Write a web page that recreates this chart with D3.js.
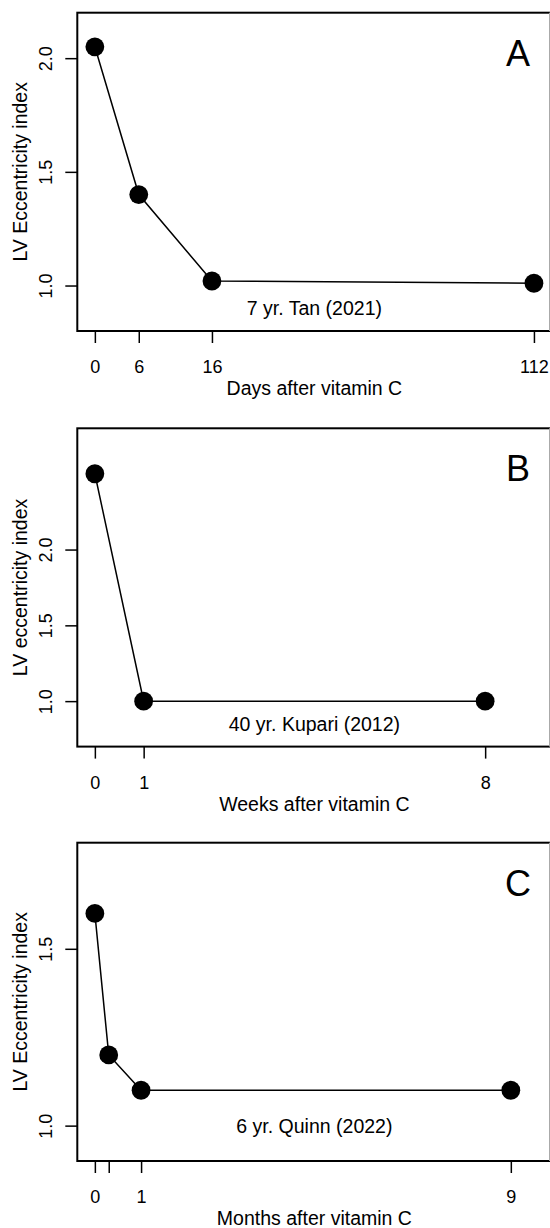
<!DOCTYPE html>
<html>
<head>
<meta charset="utf-8">
<script src="https://cdnjs.cloudflare.com/ajax/libs/d3/7.8.5/d3.min.js"></script>
<style>
  body { margin: 0; background: #fff; }
  svg { display: block; font-family: "Liberation Sans", Arial, sans-serif; }
</style>
</head>
<body>
<div id="chart"></div>
<script>
// Panel A: days after vitamin C (x axis is compressed after day 16)
const daysA = [0, 6, 16, 112];
const eccA = [2.05, 1.40, 1.02, 1.01];
const xTicksA = [0, 6, 16, 112];
const yTicksA = [1.0, 1.5, 2.0];

// Panel B: weeks after vitamin C
const weeksB = [0, 1, 8];
const eccB = [2.5, 1.0, 1.0];
const xTicksB = [0, 1, 8];
const yTicksB = [1.0, 1.5, 2.0];

// Panel C: months after vitamin C
const monthsC = [0, 0.3, 1, 9];
const eccC = [1.6, 1.2, 1.1, 1.1];
const xTicksC = [0, 0.3, 1, 9];
const xTickLabelsC = ["0", "", "1", "9"];
const yTicksC = [1.0, 1.5];

const W = 550, H = 1228;
const left = 77.3, right = 551.5;
const boxH = 318.3;
const tickFont = 18, labelFont = 19.5;

const svg = d3.select("#chart").append("svg")
    .attr("width", W)
    .attr("height", H);

// Builds one panel from its arrays
function drawPanel(p) {
    const top = p.top, bottom = top + boxH;
    const inner = d3.scaleLinear().domain(p.xDomain).range([left, right]);
    // piecewise scale so that the long tail of panel A is compressed
    const x = p.xBreak
        ? d3.scaleLinear().domain(p.xBreak.values).range(p.xBreak.units.map(inner))
        : inner;
    const y = d3.scaleLinear().domain(p.yDomain).range([bottom, top]);
    const g = svg.append("g");

    // box (right border falls just off the picture)
    g.append("rect")
        .attr("x", left).attr("y", top)
        .attr("width", right - left).attr("height", boxH)
        .attr("fill", "none").attr("stroke", "#000").attr("stroke-width", 2);
    g.append("line")
        .attr("x1", 549.5).attr("x2", 549.5).attr("y1", top).attr("y2", bottom)
        .attr("stroke", "#aaa").attr("stroke-width", 1);

    // x axis
    const xAxis = d3.axisBottom(x).tickValues(p.xTicks).tickSize(12).tickPadding(0)
        .tickFormat((d, i) => p.xLabels ? p.xLabels[i] : d);
    const gx = g.append("g").attr("transform", `translate(0,${bottom})`).call(xAxis);
    gx.select(".domain").remove();
    gx.selectAll(".tick line").attr("stroke", "#000").attr("stroke-width", 1.5);
    gx.selectAll(".tick text")
        .attr("y", 42).attr("dy", null)
        .attr("font-size", tickFont).attr("fill", "#000")
        .attr("font-family", "Liberation Sans, Arial, sans-serif");

    g.append("text")
        .attr("x", inner((p.xDomain[0] + p.xDomain[1]) / 2)).attr("y", bottom + 64)
        .attr("text-anchor", "middle").attr("font-size", labelFont)
        .text(p.xTitle);

    // y axis
    const yAxis = d3.axisLeft(y).tickValues(p.yTicks).tickSize(12).tickPadding(0)
        .tickFormat(d3.format(".1f"));
    const gy = g.append("g").attr("transform", `translate(${left},0)`).call(yAxis);
    gy.select(".domain").remove();
    gy.selectAll(".tick line").attr("stroke", "#000").attr("stroke-width", 1.5);
    gy.selectAll(".tick text")
        .attr("x", null).attr("dy", null)
        .attr("text-anchor", "middle")
        .attr("transform", `translate(${52 - left},0) rotate(-90)`)
        .attr("font-size", tickFont).attr("fill", "#000")
        .attr("font-family", "Liberation Sans, Arial, sans-serif");

    g.append("text")
        .attr("transform", `translate(26.5,${(top + bottom) / 2}) rotate(-90)`)
        .attr("text-anchor", "middle").attr("font-size", labelFont)
        .text(p.yTitle);

    // series
    const pts = p.xs.map((v, i) => [x(v), y(p.ys[i])]);
    g.append("path")
        .attr("d", d3.line()(pts))
        .attr("fill", "none").attr("stroke", "#000").attr("stroke-width", 1.5);
    g.selectAll("circle").data(pts).enter().append("circle")
        .attr("cx", d => d[0]).attr("cy", d => d[1]).attr("r", 9.4)
        .attr("fill", "#000");

    // study annotation
    g.append("text")
        .attr("x", inner(p.note.x)).attr("y", y(p.note.y) + 7)
        .attr("text-anchor", "middle").attr("font-size", labelFont)
        .text(p.note.text);

    // panel letter
    g.append("text")
        .attr("x", 518).attr("y", top + 53)
        .attr("text-anchor", "middle").attr("font-size", 36)
        .text(p.letter);
}

drawPanel({
    top: 12.7, letter: "A",
    xs: daysA, ys: eccA,
    xDomain: [-2.4, 62.4], xBreak: { values: [0, 16, 112], units: [0, 16, 60] },
    yDomain: [0.8, 2.2],
    xTicks: xTicksA, yTicks: yTicksA,
    xTitle: "Days after vitamin C", yTitle: "LV Eccentricity index",
    note: { x: 30, y: 0.9, text: "7 yr. Tan (2021)" }
});

drawPanel({
    top: 428.3, letter: "B",
    xs: weeksB, ys: eccB,
    xDomain: [-0.36, 9.36],
    yDomain: [0.7, 2.8],
    xTicks: xTicksB, yTicks: yTicksB,
    xTitle: "Weeks after vitamin C", yTitle: "LV eccentricity index",
    note: { x: 4.5, y: 0.85, text: "40 yr. Kupari (2012)" }
});

drawPanel({
    top: 842.7, letter: "C",
    xs: monthsC, ys: eccC,
    xDomain: [-0.38, 9.88],
    yDomain: [0.9, 1.8],
    xTicks: xTicksC, xLabels: xTickLabelsC, yTicks: yTicksC,
    xTitle: "Months after vitamin C", yTitle: "LV Eccentricity index",
    note: { x: 4.75, y: 1.0, text: "6 yr. Quinn (2022)" }
});
</script>
</body>
</html>
